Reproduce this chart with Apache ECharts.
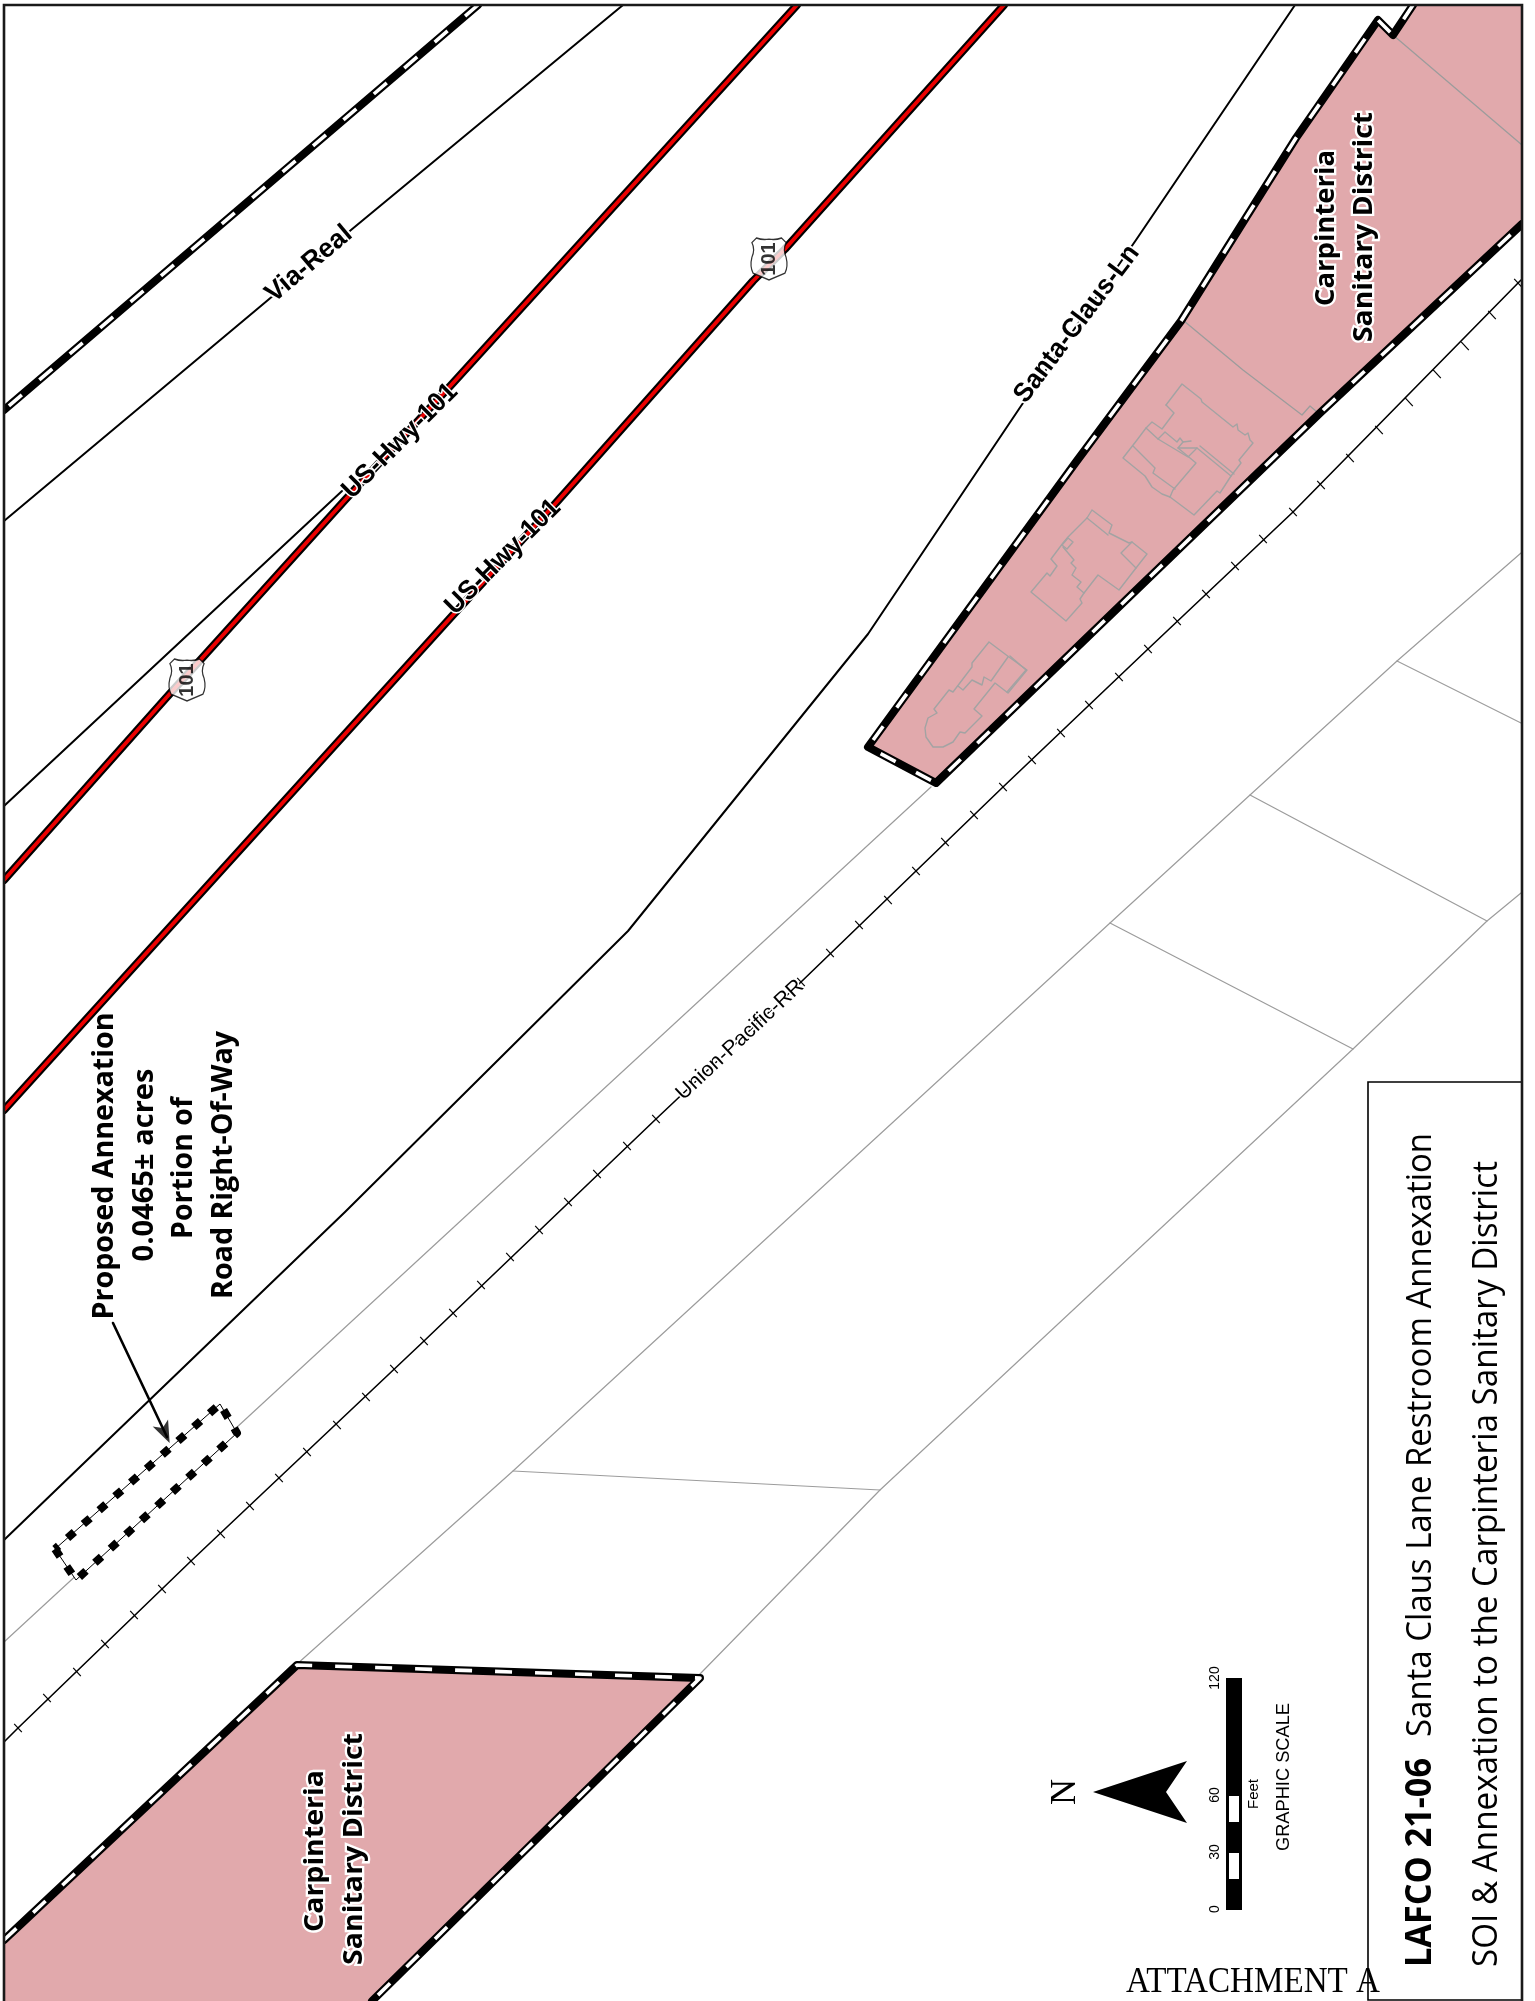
<!DOCTYPE html>
<html><head><meta charset="utf-8">
<style>html,body{margin:0;padding:0;background:#fff}#c{width:1535px;height:2001px}</style>
<script src="https://cdn.jsdelivr.net/npm/echarts@6/dist/echarts.min.js"></script>
</head><body><div id="c"></div>
<script>
// ---- map linework (map pixel units) ----
const viaRealBoundary=[[478,5],[4,410]];
const viaReal=[[623,5],[351,230],[268,300],[4,521]];
const hwyNorth=[[797,5],[453,383],[345,500],[166,698],[4,880]];
const hwySouth=[[1004,5],[785,249],[753,281],[555,504],[453,615],[4,1110]];
const frontage=[[342,491],[4,806]];
const santaClaus=[[1295,5],[1136,240],[1021,406],[868,634],[628,931],[345,1212],[4,1540]];
const railway=[[1521,280],[1293,512],[1148,649],[1003,787],[801,982],[656,1119],[424,1341],[191,1561],[18,1728],[4,1742]];
const railTicks=[[1518,283],[1492,315],[1465,346],[1437,374],[1409,402],[1379,430],[1350,458],[1321,485],[1293,512],[1263,539],[1235,566],[1206,594],[1177,621],[1148,649],[1119,677],[1089,705],[1061,733],[1032,760],[1003,787],[974,815],[945,842],[916,871],[888,900],[859,925],[830,953],[801,982],[656,1119],[627,1146],[597,1174],[568,1202],[539,1230],[510,1257],[481,1285],[453,1313],[424,1341],[394,1369],[366,1397],[337,1425],[307,1452],[279,1478],[250,1506],[221,1534],[191,1561],[162,1589],[134,1615],[105,1644],[77,1672],[47,1698],[18,1728]];
const parcelA=[[931,787],[4,1642]];
const parcelB=[[1521,553],[1397,661],[1250,795],[1110,923],[513,1471],[296,1665]];
const parcelC=[[1521,893],[1487,921],[1353,1049],[880,1490],[699,1675]];
const parcelCross=[[[1397,661],[1521,723]],[[1250,795],[1487,921]],[[1110,923],[1353,1049]],[[513,1471],[880,1490]]];
const districtNE=[[868,747],[1076,462],[1181,321],[1296,138],[1378,20],[1393,35],[1413,5],[1522,5],[1522,224],[1320,413],[936,783]];
const districtNEEdge=[[1413,5],[1393,35],[1378,20],[1296,138],[1181,321],[1076,462],[868,747],[936,783],[1320,413],[1522,224]];
const districtSW=[[4,1940],[297,1665],[700,1678],[372,2001],[4,2001]];
const districtSWEdge=[[4,1940],[297,1665],[700,1678],[372,2001]];
const annexation=[[55,1549],[76,1580],[237,1433],[220,1404],[55,1549]];
const leader=[[113,1323],[167,1437]];
const parcelInner=[
 [[1393,35],[1522,145]],
 [[1184,321],[1243,370],[1302,415],[1310,406],[1317,412]]];
const buildings=[
 [[989,642],[1009,657],[1027,670],[1008,693],[995,683],[974,709],[982,716],[965,733],[960,732],[953,742],[943,747],[933,747],[926,737],[925,728],[928,718],[937,713],[934,709],[949,690],[953,692],[972,667],[972,663],[989,642]],
 [[958,686],[963,690],[972,680],[982,685],[984,677],[991,681],[1008,657]],
 [[1010,656],[1026,670],[1007,692]],
 [[1092,510],[1112,525],[1109,533],[1129,543],[1132,542],[1147,554],[1136,568],[1119,590],[1098,575],[1084,593],[1080,599],[1082,603],[1066,621],[1031,592],[1047,573],[1050,576],[1057,566],[1051,559],[1063,543],[1068,537],[1087,518],[1092,510]],
 [[1087,518],[1108,535]],
 [[1132,542],[1121,553],[1136,568]],
 [[1063,547],[1074,560],[1071,563],[1076,568],[1072,575],[1081,582],[1077,587],[1084,593]],
 [[1062,545],[1068,538],[1073,542],[1067,549],[1062,545]],
 [[1166,405],[1182,384],[1201,399],[1202,402],[1233,427],[1237,424],[1238,430],[1245,435],[1248,433],[1250,440],[1253,443],[1239,460],[1241,463],[1231,476]],
 [[1166,405],[1174,413],[1162,429],[1152,422],[1146,428],[1158,439],[1165,432],[1177,442],[1180,438],[1183,442],[1191,441]],
 [[1146,428],[1137,440],[1123,458],[1145,476],[1152,487],[1162,494],[1170,497],[1194,515],[1217,491],[1220,493],[1231,476],[1197,448],[1178,448],[1183,442]],
 [[1178,448],[1196,463],[1173,490],[1170,497]],
 [[1133,446],[1155,468],[1153,473],[1175,489]],
 [[1158,439],[1188,457],[1197,448]],
 [[1200,446],[1234,474]]];
const shields=[[187,680],[769,259]];
const northArrow=[[1093,1792],[1187,1761],[1166,1792],[1187,1823]];
const scaleBar=[[1226,1678],[1242,1678],[1242,1910],[1226,1910]];
const scaleGaps=[[1796,1822],[1853,1879]];
const titleBox=[[1368,1082],[1522,1082],[1522,2000],[1368,2000]];
const mapFrame=[[4,2006],[4,5],[1522,5],[1522,2006]];
const outerMargins=[
 [[-9,-9],[1544,-9],[1544,4],[-9,4]],
 [[-9,-9],[3,-9],[3,2010],[-9,2010]],
 [[1523,-9],[1544,-9],[1544,2010],[1523,2010]]];
// ---- text: [text,x,y,rotationDeg,size,family,weight,length,halo,align] ----
const ARIAL='"Liberation Sans"',OPEN='"Open Sans"',SERIF='"Liberation Serif"';
const mapLabels=[
 ['Via-Real',309,264,40,27,ARIAL,'bold',104,4,'center'],
 ['US-Hwy-101',400,441,45,27,ARIAL,'bold',151,3,'center'],
 ['US-Hwy-101',503,557,45,27,ARIAL,'bold',151,3,'center'],
 ['Santa-Claus-Ln',1077,324,53,27,ARIAL,'bold',190,4,'center'],
 ['Union-Pacific-RR',740,1040,43,21,ARIAL,'normal',166,3,'center'],
 ['Carpinteria',1326,228,90,27,OPEN,'bold',156,4.5,'center'],
 ['Sanitary District',1364,227,90,27,OPEN,'bold',230,4.5,'center'],
 ['Carpinteria',315,1851,90,27,OPEN,'bold',162,4.5,'center'],
 ['Sanitary District',354,1849,90,27,OPEN,'bold',232,4.5,'center'],
 ['Proposed Annexation',105,1166,90,29,OPEN,'bold',307,0,'center'],
 ['0.0465± acres',145,1165,90,29,OPEN,'bold',193,0,'center'],
 ['Portion of',184,1168,90,29,OPEN,'bold',142,0,'center'],
 ['Road Right-Of-Way',224,1165,90,29,OPEN,'bold',268,0,'center'],
 ['LAFCO 21-06',1421,1967,90,36,OPEN,'bold',209,0,'left'],
 ['Santa Claus Lane Restroom Annexation',1421,1737,90,34,OPEN,'normal',604,0,'left'],
 ['SOI & Annexation to the Carpinteria Sanitary District',1487,1967,90,34,OPEN,'normal',806,0,'left'],
 ['ATTACHMENT A',1253,1983,0,36,SERIF,'normal',254,0,'center'],
 ['N',1066,1792,90,36,SERIF,'normal',0,0,'center'],
 ['120',1215,1678,90,14,ARIAL,'normal',0,0,'center'],
 ['60',1215,1795,90,14,ARIAL,'normal',0,0,'center'],
 ['30',1215,1852,90,14,ARIAL,'normal',0,0,'center'],
 ['0',1215,1909,90,14,ARIAL,'normal',0,0,'center'],
 ['Feet',1254,1794,90,15,ARIAL,'normal',0,0,'center'],
 ['GRAPHIC SCALE',1284,1777,90,18,ARIAL,'normal',148,0,'center']];
const shieldLabel='101';

const mc=document.createElement('canvas').getContext('2d');
function fit(l){ if(!l[7]) return 1; mc.font=`${l[6]} ${l[4]}px ${l[5]}`; return l[7]/mc.measureText(l[0]).width; }

function line(pts,color,width,dash,z){
  return {type:'line',data:pts,symbol:'none',silent:true,animation:false,z:z,clip:true,
    lineStyle:{color:color,width:width,type:dash||'solid',cap:dash?'butt':'round',join:'round'}};
}
function poly(pts,fill,stroke,width,z){
  return {type:'custom',data:[[4,5]],silent:true,animation:false,z:z,clip:false,
    renderItem:(p,api)=>({type:'polygon',shape:{points:pts.map(q=>api.coord(q))},
      style:{fill:fill,stroke:stroke||null,lineWidth:width||0}})};
}
const series=[];
// fills
series.push(poly(districtNE,'#E1A9AC',null,0,1));
series.push(poly(districtSW,'#E1A9AC',null,0,1));
// gray parcels
[parcelA,parcelB,parcelC,...parcelCross].forEach(p=>series.push(line(p,'#9C9C9C',1.2,null,2)));
parcelInner.forEach(p=>series.push(line(p,'#9C9C9C',1.3,null,2)));
buildings.forEach(p=>series.push(line(p,'#A3A3A3',1.4,null,2)));
// roads
[viaReal,frontage,santaClaus].forEach(p=>series.push(line(p,'#000',2,null,3)));
[hwyNorth,hwySouth].forEach(p=>{series.push(line(p,'#000',8,null,3));series.push(line(p,'#EC0000',3.8,null,4));});
series.push(line(railway,'#000',1.6,null,3));
series.push({type:'custom',data:railTicks,silent:true,animation:false,z:3,clip:false,
  renderItem:(p,api)=>{const c=api.coord([api.value(0),api.value(1)]);
    return {type:'line',shape:{x1:c[0]-3.8,y1:c[1]-4.2,x2:c[0]+3.8,y2:c[1]+4.2},style:{stroke:'#000',lineWidth:1.2}};}});
// district boundaries
[viaRealBoundary,districtNEEdge,districtSWEdge].forEach(p=>{
  series.push(line(p,'#000',8,null,5));
  series.push(line(p,'#fff',3.6,[17,23],6));
});
// annexation
series.push(poly(annexation,'#fff',null,0,3));
series.push(line(annexation,'#000',1,null,5));
series.push(line(annexation,'#000',8,[9,12],6));
series.push(line(leader,'#000',2.6,null,6));
series.push({type:'scatter',data:[[165,1433]],symbol:'path://M5,0 L10,14 L5,10.5 L0,14 Z',symbolSize:[17,22],symbolRotate:-155,silent:true,animation:false,z:7,itemStyle:{color:'#000'}});
// shields
series.push({type:'scatter',data:shields,silent:true,animation:false,z:8,
  symbol:'path://M6,2 Q11,4 17,3 Q23,4 28,2 L32,6 Q29,12 32,19 Q34,27 31,33 Q24,36 17,39 Q10,36 3,33 Q0,27 2,19 Q5,12 2,6 Z',
  symbolSize:[36,42],itemStyle:{color:'#fff',borderColor:'#000',borderWidth:1.3},
  label:{show:true,formatter:shieldLabel,position:'inside',rotate:90,color:'#000',fontFamily:'Liberation Sans',fontWeight:'bold',fontSize:20}});
// scale bar, north arrow, title box
series.push(poly(scaleBar,'#000',null,0,5));
scaleGaps.forEach(g=>series.push(poly([[1229,g[0]],[1239,g[0]],[1239,g[1]],[1229,g[1]]],'#fff',null,0,6)));
series.push(poly(northArrow,'#000',null,0,5));
series.push(poly(titleBox,'#fff','#000',1.6,9));
outerMargins.forEach(m=>series.push(poly(m,'#fff',null,0,9)));
series.push({type:'custom',data:[[4,5]],silent:true,animation:false,z:9,clip:false,
  renderItem:(p,api)=>({type:'polyline',shape:{points:mapFrame.map(q=>api.coord(q))},style:{fill:null,stroke:'#1a1a1a',lineWidth:2.6}})});
// text
series.push({type:'custom',data:mapLabels.map((l,i)=>[l[1],l[2],i]),silent:true,animation:false,z:10,clip:false,
  renderItem:(p,api)=>{const l=mapLabels[api.value(2)],c=api.coord([l[1],l[2]]);
    return {type:'text',x:c[0],y:c[1],rotation:l[3]*Math.PI/180,scaleX:fit(l),scaleY:1,z2:10,
      style:{text:l[0],fontFamily:l[5].replace(/"/g,''),fontWeight:l[6],fontSize:l[4],fill:'#000',
        stroke:l[8]?'#fff':null,lineWidth:l[8]||0,align:l[9],verticalAlign:'middle'}};}});

const chart=echarts.init(document.getElementById('c'),null,{width:1535,height:2001,renderer:'canvas'});
chart.setOption({animation:false,backgroundColor:'#fff',
  grid:{left:4,top:5,width:1518,height:1996},
  xAxis:{type:'value',min:4,max:1522,show:false},
  yAxis:{type:'value',min:5,max:2001,inverse:true,show:false},
  series:series});
</script></body></html>
